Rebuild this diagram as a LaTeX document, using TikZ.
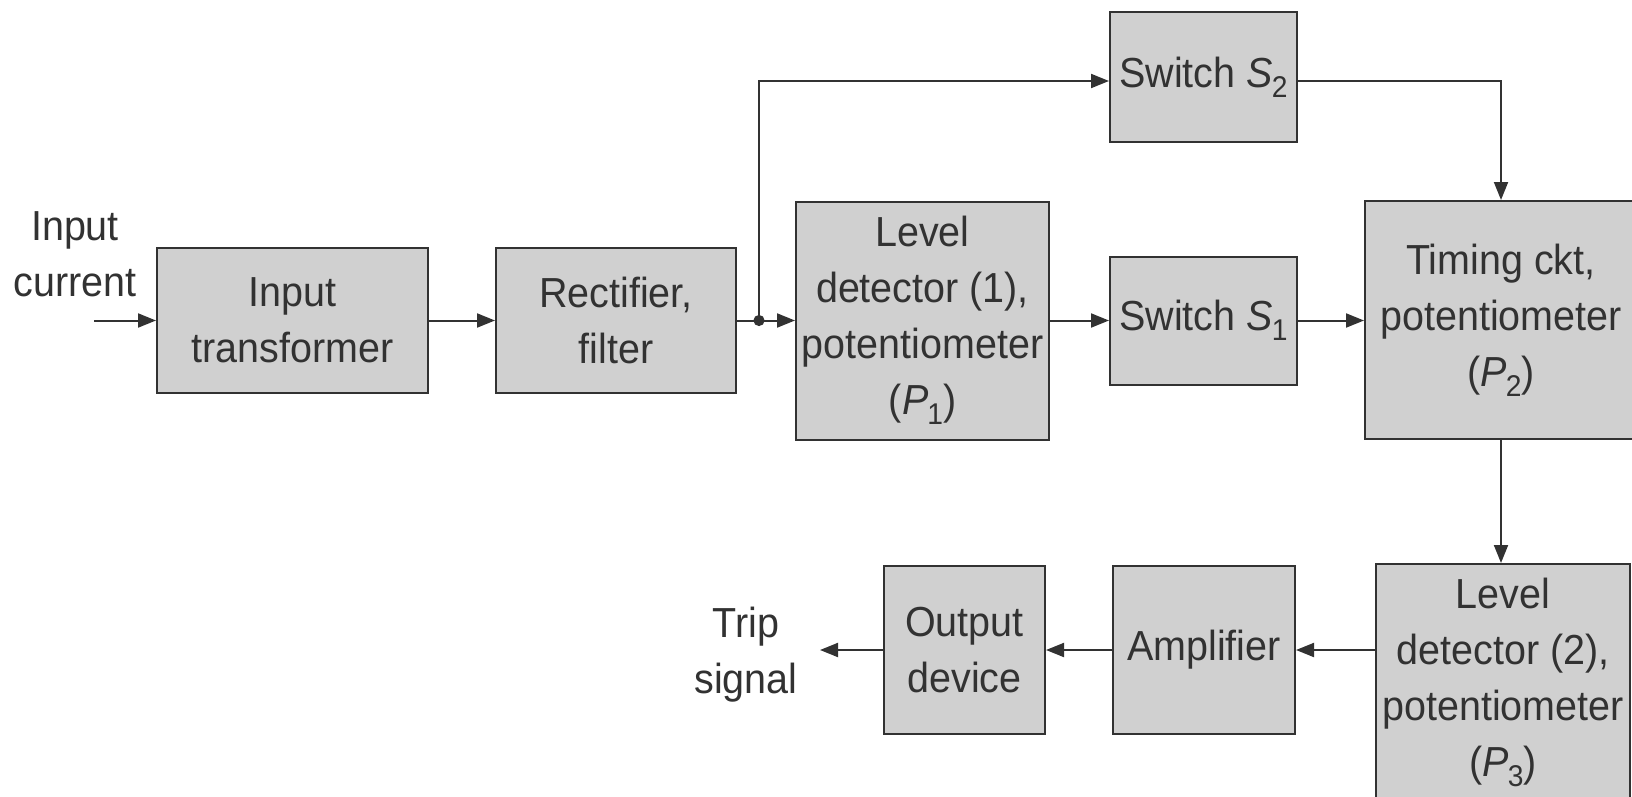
\documentclass[tikz,border=0pt]{standalone}
\usepackage{fontspec}
\setmainfont[FakeStretch=0.94]{Liberation Sans}
\usetikzlibrary{arrows.meta}
\definecolor{boxgray}{RGB}{208,208,208}
\definecolor{inkgray}{RGB}{50,50,50}
\newcommand{\symsub}[2]{\textit{#1}\kern-0.5pt\raisebox{-0.45ex}{\fontsize{15}{15}\selectfont #2}}
\begin{document}
\begin{tikzpicture}[x=0.5pt, y=-0.5pt, inkgray,
    every node/.style={font=\fontsize{21}{28}\selectfont, align=center, inner sep=0pt, text=inkgray},
    blk/.style={draw=inkgray, fill=boxgray, line width=1pt},
    flow/.style={line width=1pt, -{Triangle[length=9pt, width=7pt]}}]
    \useasboundingbox (0,0) rectangle (1632,797);

    \node[blk, minimum width=135.5pt, minimum height=72.5pt] (intr) at (292.5,320.5) {Input\\transformer};
    \node[blk, minimum width=120pt, minimum height=72.5pt] (rect) at (616,320.5) {Rectifier,\\filter};
    \node[blk, minimum width=126.5pt, minimum height=119pt] (lvla) at (922.5,320.5) {Level\\detector (1),\\potentiometer\\(\symsub{P}{1})};
    \node[blk, minimum width=93.5pt, minimum height=64pt] (swa) at (1203.5,320.5) {Switch \symsub{S}{1}};
    \node[blk, minimum width=93.5pt, minimum height=65pt] (swb) at (1203.5,77) {Switch \symsub{S}{2}};
    \node[blk, minimum width=136pt, minimum height=119pt] (tim) at (1501,320) {Timing ckt,\\potentiometer\\(\symsub{P}{2})};
    \node[blk, minimum width=127pt, minimum height=118pt] (lvlb) at (1503,682) {Level\\detector (2),\\potentiometer\\(\symsub{P}{3})};
    \node[blk, minimum width=91pt, minimum height=84pt] (amp) at (1204,650) {Amplifier};
    \node[blk, minimum width=80.5pt, minimum height=84pt] (outd) at (964.5,650) {Output\\device};

    \node (inlbl) at (75,254) {Input\\current};
    \node (triplbl) at (746,655) {Trip\\signal};

    \coordinate (inp) at (94,320.5);
    \coordinate (trip) at (820,650);
    \coordinate (jn) at (759,320.5);
    \coordinate (brk) at (759,81);

    \draw[flow] (inp) -- (intr);
    \draw[flow] (intr) -- (rect);
    \draw[line width=1pt] (rect) -- (jn);
    \draw[flow] (jn) -- (lvla);
    \fill (jn) circle (2.8pt);
    \draw[flow] (jn) -- (brk) -- (brk -| swb.west);
    \draw[flow] (lvla) -- (swa);
    \draw[flow] (swa) -- (swa -| tim.west);
    \draw[flow] (brk -| swb.east) -| (tim.north);
    \draw[flow] (tim.south) -- (tim.south |- lvlb.north);
    \draw[flow] (lvlb.west |- amp) -- (amp);
    \draw[flow] (amp) -- (outd);
    \draw[flow] (outd) -- (trip);
\end{tikzpicture}
\end{document}
